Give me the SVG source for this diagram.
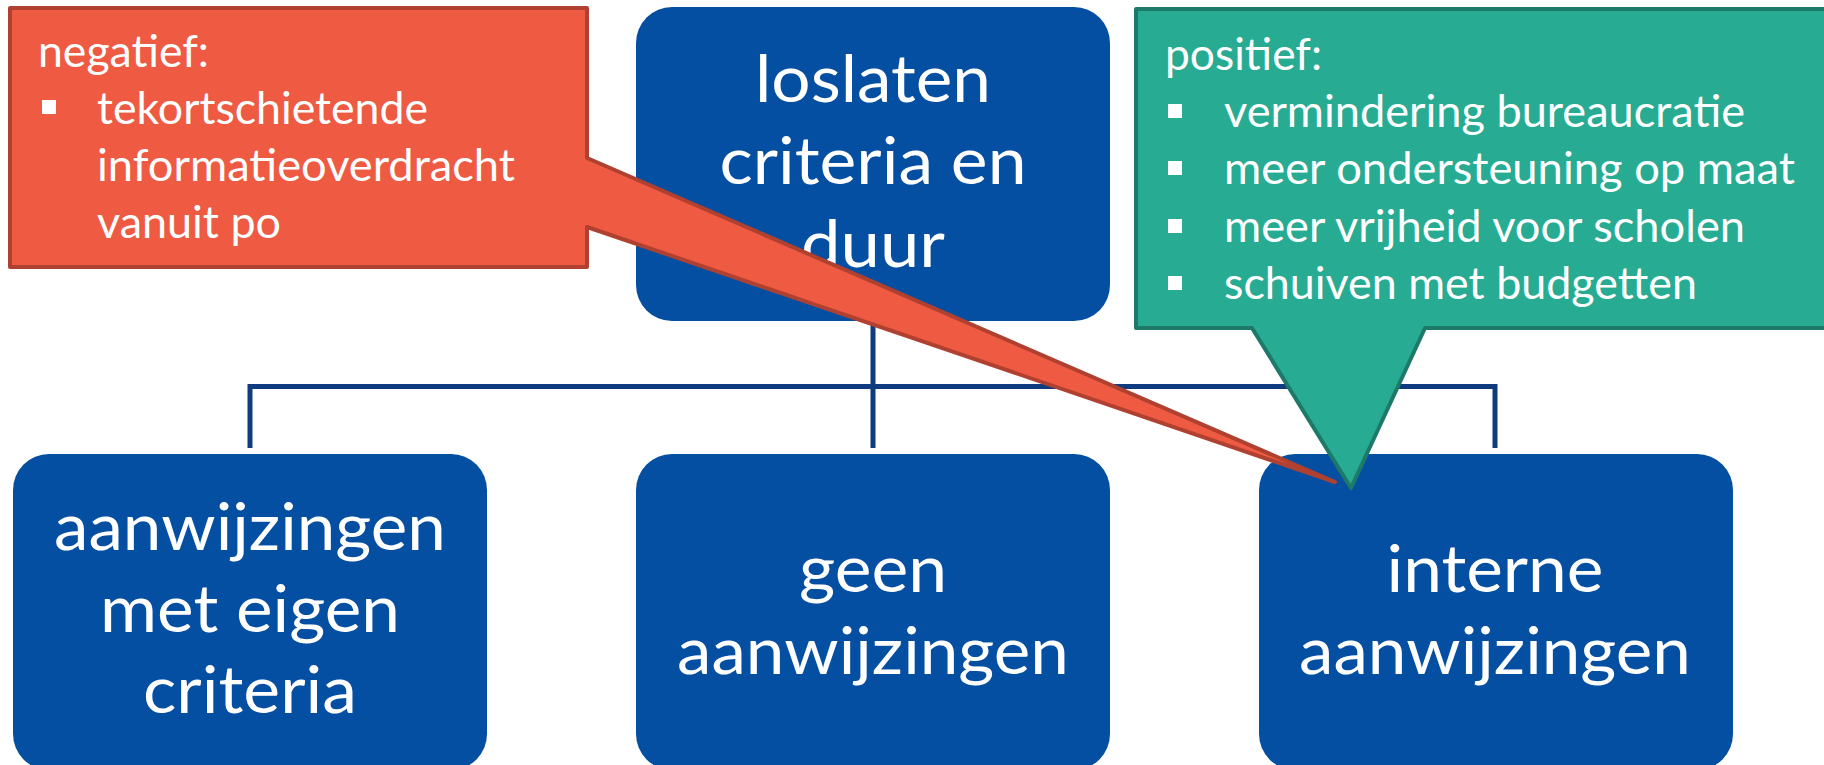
<svg xmlns="http://www.w3.org/2000/svg" width="1824" height="765" viewBox="0 0 1824 765">
<style>
.box{fill:#054FA3}
.bt{fill:#fff;font-family:Lato,"Liberation Sans",sans-serif;font-size:65px;text-anchor:middle}
.ct{fill:#fff;font-family:Lato,"Liberation Sans",sans-serif;font-size:44px}
.conn{fill:none;stroke:#0F3C7E;stroke-width:5}
.bul{fill:#fff}
</style>
<rect width="1824" height="765" fill="#fff"/>
<g id="node-top">
<rect class="box" x="636" y="7" width="474" height="314" rx="36"/>
<text class="bt" x="873" y="102" textLength="236" lengthAdjust="spacingAndGlyphs">loslaten</text>
<text class="bt" x="873" y="184" textLength="307" lengthAdjust="spacingAndGlyphs">criteria en</text>
<text class="bt" x="873" y="267" textLength="144" lengthAdjust="spacingAndGlyphs">duur</text>
</g>
<g id="node-left">
<rect class="box" x="13" y="454" width="474" height="316" rx="36"/>
<text class="bt" x="250" y="550" textLength="392" lengthAdjust="spacingAndGlyphs">aanwijzingen</text>
<text class="bt" x="250" y="632" textLength="300" lengthAdjust="spacingAndGlyphs">met eigen</text>
<text class="bt" x="250" y="713" textLength="214" lengthAdjust="spacingAndGlyphs">criteria</text>
</g>
<g id="node-middle">
<rect class="box" x="636" y="454" width="474" height="316" rx="36"/>
<text class="bt" x="873" y="592" textLength="148" lengthAdjust="spacingAndGlyphs">geen</text>
<text class="bt" x="873" y="674" textLength="392" lengthAdjust="spacingAndGlyphs">aanwijzingen</text>
</g>
<g id="node-right">
<rect class="box" x="1259" y="454" width="474" height="316" rx="36"/>
<text class="bt" x="1495" y="592" textLength="217" lengthAdjust="spacingAndGlyphs">interne</text>
<text class="bt" x="1495" y="674" textLength="392" lengthAdjust="spacingAndGlyphs">aanwijzingen</text>
</g>
<g id="connectors">
<path class="conn" d="M873,321 V448 M250,386.5 H1495 M250,384 V448 M1495,384 V448"/>
</g>
<g id="callout-negatief">
<path d="M10,8 H587 V158 L1335,482 L587,227 V267 H10 Z" fill="#EE5A42" stroke="#B0402F" stroke-width="4" stroke-linejoin="round"/>
<text class="ct" x="38" y="67" textLength="171" lengthAdjust="spacingAndGlyphs">negatief:</text>
<rect class="bul" x="42" y="100" width="14" height="14"/>
<text class="ct" x="97" y="124" textLength="331" lengthAdjust="spacingAndGlyphs">tekortschietende</text>
<text class="ct" x="97" y="181" textLength="418" lengthAdjust="spacingAndGlyphs">informatieoverdracht</text>
<text class="ct" x="97" y="238" textLength="184" lengthAdjust="spacingAndGlyphs">vanuit po</text>
</g>
<g id="callout-positief">
<path d="M1136,9 H1830 V328 H1425 L1351,488 L1252,328 H1136 Z" fill="#27AC93" stroke="#1D7A68" stroke-width="4" stroke-linejoin="round"/>
<text class="ct" x="1165" y="70" textLength="157" lengthAdjust="spacingAndGlyphs">positief:</text>
<rect class="bul" x="1168" y="104" width="14" height="14"/>
<text class="ct" x="1224" y="127" textLength="521" lengthAdjust="spacingAndGlyphs">vermindering bureaucratie</text>
<rect class="bul" x="1168" y="161" width="14" height="14"/>
<text class="ct" x="1224" y="184" textLength="571" lengthAdjust="spacingAndGlyphs">meer ondersteuning op maat</text>
<rect class="bul" x="1168" y="219" width="14" height="14"/>
<text class="ct" x="1224" y="242" textLength="521" lengthAdjust="spacingAndGlyphs">meer vrijheid voor scholen</text>
<rect class="bul" x="1168" y="276" width="14" height="14"/>
<text class="ct" x="1224" y="299" textLength="473" lengthAdjust="spacingAndGlyphs">schuiven met budgetten</text>
</g>
</svg>
